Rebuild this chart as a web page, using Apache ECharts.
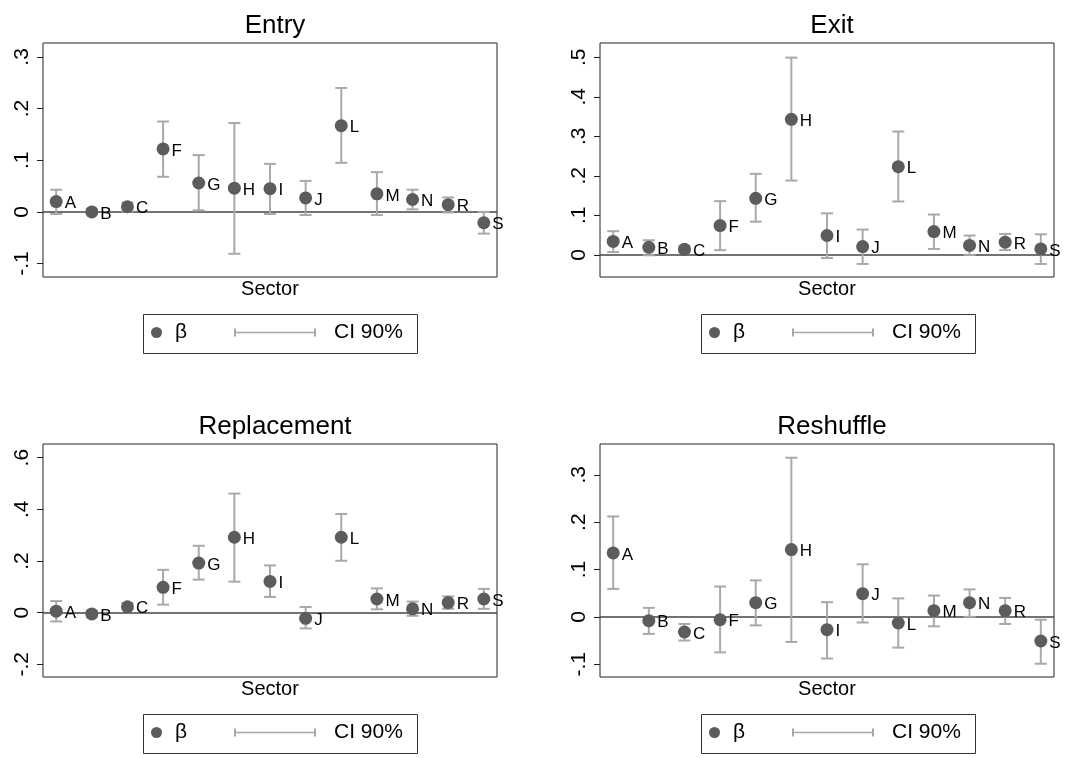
<!DOCTYPE html>
<html>
<head>
<meta charset="utf-8">
<script src="https://cdn.jsdelivr.net/npm/echarts@6/dist/echarts.min.js"></script>
<style>
html,body{margin:0;padding:0;background:#fff;}
#chart{width:1086px;height:758px;}
</style>
</head>
<body>
<div id="chart"></div>
<script>
// ---- data ----
const sectors = ['A','B','C','F','G','H','I','J','L','M','N','R','S'];

const entryBeta = [0.020,0.000,0.010,0.122,0.056,0.046,0.045,0.027,0.167,0.035,0.024,0.014,-0.021];
const entryLow  = [-0.004,-0.005,0.001,0.068,0.003,-0.081,-0.004,-0.006,0.095,-0.006,0.005,-0.001,-0.042];
const entryHigh = [0.043,0.005,0.018,0.175,0.110,0.172,0.093,0.060,0.240,0.077,0.043,0.028,0.000];

const exitBeta = [0.034,0.019,0.014,0.074,0.143,0.343,0.049,0.021,0.223,0.059,0.024,0.032,0.015];
const exitLow  = [0.007,-0.001,0.006,0.012,0.084,0.188,-0.008,-0.023,0.135,0.015,0.000,0.012,-0.023];
const exitHigh = [0.060,0.037,0.023,0.136,0.205,0.499,0.105,0.064,0.312,0.102,0.049,0.053,0.052];

const replBeta = [0.006,-0.005,0.023,0.098,0.192,0.292,0.121,-0.022,0.292,0.053,0.015,0.039,0.053];
const replLow  = [-0.034,-0.017,0.012,0.031,0.128,0.120,0.061,-0.061,0.201,0.013,-0.012,0.015,0.015];
const replHigh = [0.045,0.007,0.037,0.166,0.259,0.461,0.183,0.022,0.382,0.094,0.043,0.063,0.092];

const reshBeta = [0.135,-0.008,-0.032,-0.006,0.030,0.142,-0.027,0.049,-0.013,0.013,0.030,0.013,-0.051];
const reshLow  = [0.059,-0.036,-0.050,-0.075,-0.018,-0.053,-0.088,-0.012,-0.065,-0.020,0.000,-0.015,-0.099];
const reshHigh = [0.212,0.019,-0.015,0.064,0.077,0.336,0.031,0.111,0.039,0.045,0.058,0.040,-0.006];

const entryTicks = [-0.1,0,0.1,0.2,0.3];
const exitTicks  = [0,0.1,0.2,0.3,0.4,0.5];
const replTicks  = [-0.2,0,0.2,0.4,0.6];
const reshTicks  = [-0.1,0,0.1,0.2,0.3];

const panelTitles = ['Entry','Exit','Replacement','Reshuffle'];
const xTitle = 'Sector';
const betaName = 'β';
const ciName = 'CI 90%';

// ---- layout ----
const FONT = 'Liberation Sans, Arial, Helvetica, sans-serif';
const panels = [
  {title: panelTitles[0], beta: entryBeta, low: entryLow, high: entryHigh, ticks: entryTicks, ymin: -0.126, ymax: 0.327,
   grid: {left: 43, top: 43, width: 454, height: 234}, titleX: 270, titleY: 8, legX: 0, legY: 0},
  {title: panelTitles[1], beta: exitBeta, low: exitLow, high: exitHigh, ticks: exitTicks, ymin: -0.056, ymax: 0.536,
   grid: {left: 600, top: 43, width: 454, height: 234}, titleX: 827, titleY: 8, legX: 558, legY: 0},
  {title: panelTitles[2], beta: replBeta, low: replLow, high: replHigh, ticks: replTicks, ymin: -0.249, ymax: 0.653,
   grid: {left: 43, top: 444, width: 454, height: 233}, titleX: 270, titleY: 409, legX: 0, legY: 400},
  {title: panelTitles[3], beta: reshBeta, low: reshLow, high: reshHigh, ticks: reshTicks, ymin: -0.127, ymax: 0.365,
   grid: {left: 600, top: 444, width: 454, height: 233}, titleX: 827, titleY: 409, legX: 558, legY: 400}
];

function stataFmt(v) {
  const r = +v.toFixed(3);
  if (r === 0) return '0';
  const s = String(Math.abs(r)).replace(/^0/, '');
  return (r < 0 ? '-' : '') + s;
}

function renderCI(params, api) {
  const x = api.value(0), lo = api.value(1), hi = api.value(2);
  const pLo = api.coord([x, lo]);
  const pHi = api.coord([x, hi]);
  const hw = 6;
  const style = {stroke: '#a9a9a9', lineWidth: 2, fill: null};
  return {
    type: 'group',
    children: [
      {type: 'line', shape: {x1: pLo[0], y1: pLo[1], x2: pHi[0], y2: pHi[1]}, style: style},
      {type: 'line', shape: {x1: pLo[0] - hw, y1: pLo[1], x2: pLo[0] + hw, y2: pLo[1]}, style: style},
      {type: 'line', shape: {x1: pHi[0] - hw, y1: pHi[1], x2: pHi[0] + hw, y2: pHi[1]}, style: style}
    ]
  };
}

const option = {
  backgroundColor: '#fff',
  animation: false,
  textStyle: {fontFamily: FONT},
  title: [], grid: [], xAxis: [], yAxis: [], series: [], legend: [], graphic: []
};

panels.forEach((p, k) => {
  option.title.push({
    text: p.title, left: p.titleX, top: p.titleY, textAlign: 'center',
    textStyle: {fontSize: 26, fontWeight: 'normal', color: '#000', fontFamily: FONT}
  });
  option.grid.push(Object.assign({show: true, borderColor: '#222', borderWidth: 1, backgroundColor: '#fff'}, p.grid));
  option.xAxis.push({
    type: 'value', gridIndex: k, min: 0.63, max: 13.37,
    name: xTitle, nameLocation: 'middle', nameGap: 2,
    nameTextStyle: {fontSize: 20, color: '#000', fontFamily: FONT},
    axisLine: {show: false}, axisTick: {show: false}, axisLabel: {show: false}, splitLine: {show: false}
  });
  option.yAxis.push({
    type: 'value', gridIndex: k, min: p.ymin, max: p.ymax,
    axisLine: {show: false},
    axisTick: {show: true, length: 6, customValues: p.ticks, lineStyle: {color: '#222', width: 1}},
    axisLabel: {show: true, customValues: p.ticks, rotate: 90, margin: 10, fontSize: 21, color: '#000',
      fontFamily: FONT, formatter: stataFmt},
    splitLine: {show: false}
  });
  const ciData = sectors.map((s, i) => [i + 1, p.low[i], p.high[i]]);
  option.series.push({
    type: 'custom', name: ciName, xAxisIndex: k, yAxisIndex: k, z: 4,
    renderItem: renderCI, data: ciData, encode: {x: 0, y: [1, 2]},
    itemStyle: {color: '#a9a9a9'}, silent: true
  });
  option.series.push({
    type: 'scatter', name: betaName, xAxisIndex: k, yAxisIndex: k, z: 5,
    symbol: 'circle', symbolSize: 13,
    itemStyle: {color: '#5c5c5c', opacity: 1},
    label: {show: true, position: 'right', distance: 2, offset: [0, 2], formatter: '{b}',
      fontSize: 17, color: '#000', fontFamily: FONT},
    data: sectors.map((s, i) => ({name: s, value: [i + 1, p.beta[i]]})),
    markLine: {
      silent: true, symbol: ['none', 'none'], z: 3,
      label: {show: false},
      lineStyle: {color: '#444', width: 1.6, type: 'solid'},
      emphasis: {disabled: true},
      data: [{yAxis: 0}]
    }
  });
  option.legend.push({
    left: 151 + p.legX, top: 322 + p.legY, padding: 0, itemWidth: 11, itemHeight: 11,
    selectedMode: false, data: [{name: betaName, icon: 'circle', itemStyle: {color: '#5c5c5c'}}],
    textStyle: {fontSize: 21, color: '#000', fontFamily: FONT, padding: [0, 0, 0, 8]}
  });
  option.legend.push({
    left: 234 + p.legX, top: 322 + p.legY, padding: 0, itemWidth: 82, itemHeight: 8,
    selectedMode: false,
    data: [{name: ciName, icon: 'path://M0,0h2v3.2h78v-3.2h2v8h-2v-3.2h-78v3.2h-2z', itemStyle: {color: '#a9a9a9'}}],
    textStyle: {fontSize: 21, color: '#000', fontFamily: FONT, padding: [0, 0, 0, 13]}
  });
  option.graphic.push({
    type: 'rect', silent: true, z: 0,
    shape: {x: 143.5 + p.legX, y: 314.5 + p.legY, width: 274, height: 39},
    style: {fill: '#fff', stroke: '#333', lineWidth: 1}
  });
});

const chart = echarts.init(document.getElementById('chart'), null, {renderer: 'canvas'});
chart.setOption(option);
</script>
</body>
</html>
